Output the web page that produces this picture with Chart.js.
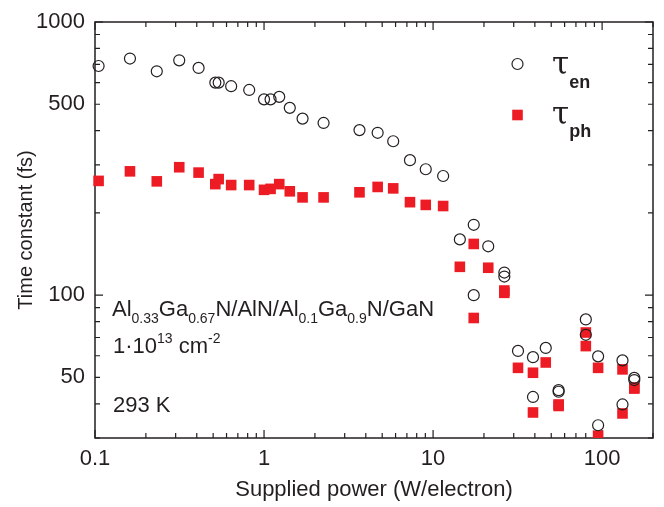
<!DOCTYPE html>
<html>
<head>
<meta charset="utf-8">
<script src="https://cdn.jsdelivr.net/npm/chart.js@4.4.0/dist/chart.umd.js"></script>
<style>
    html, body { margin: 0; padding: 0; background: #fff; }
    #wrap { width: 664px; height: 507px; }
</style>
</head>
<body>
<div id="wrap"><canvas id="chart"></canvas></div>
<script>
// Supplied power (W/electron) for each measurement
const power = [0.105, 0.161, 0.232, 0.315, 0.41, 0.515, 0.539, 0.639, 0.817, 1.0,
    1.093, 1.23, 1.42, 1.69, 2.25, 3.67, 4.70, 5.81, 7.30, 9.05,
    11.47, 14.4, 17.4, 17.4, 21.2, 26.4, 26.4, 31.8, 39.0, 39.0,
    46.4, 55.3, 55.3, 80.1, 80.1, 94.7, 94.7, 132, 132, 155, 155];

// tau_en (fs), open circles
const tauEn = [690, 735, 660, 724, 679, 600, 600, 582, 564, 521,
    521, 532, 485, 443, 427, 402, 393, 366, 312, 289,
    273, 160, 181, 100, 151, 121, 117, 62.5, 59.3, 42.4,
    64.1, 44.9, 44.3, 81.5, 71.6, 59.7, 33.4, 57.7, 39.8, 49.8, 48.9];

// tau_ph (fs), red squares
const tauPh = [262, 284, 261, 294, 281, 255, 266, 253, 253, 243,
    245, 255, 240, 228, 228, 238, 249, 246, 219, 214,
    212, 127, 154, 82.5, 126, 104, 102, 54.2, 52, 37.2,
    56.7, 39.8, 39.3, 73, 65.1, 54.2, 30.6, 53.5, 36.9, 45.9, 45.5];

const xTicks = [0.1, 1, 10, 100];
const yTicks = [50, 100, 500, 1000];

const ink = '#231f20';
const red = '#ed1c24';
const sans = '"Liberation Sans", Arial, sans-serif';

// Frame with inward ticks on all four sides
const framePlugin = {
    id: 'frame',
    beforeDatasetsDraw(chart) {
        const { ctx, chartArea: a, scales } = chart;
        ctx.save();
        ctx.strokeStyle = ink;
        ctx.lineWidth = 1.5;
        ctx.strokeRect(a.left, a.top, a.right - a.left, a.bottom - a.top);
        ctx.lineWidth = 1.2;
        ctx.beginPath();
        // x ticks
        for (let d = 0.1; d <= 100; d *= 10) {
            for (let m = 1; m <= 9; m++) {
                const v = d * m;
                if (v > scales.x.max) break;
                const px = scales.x.getPixelForValue(v);
                const len = m === 1 ? 8 : 5;
                ctx.moveTo(px, a.bottom); ctx.lineTo(px, a.bottom - len);
                ctx.moveTo(px, a.top); ctx.lineTo(px, a.top + len);
            }
        }
        // y ticks
        for (let d = 10; d <= 1000; d *= 10) {
            for (let m = 1; m <= 9; m++) {
                const v = d * m;
                if (v < scales.y.min || v > scales.y.max) continue;
                const py = scales.y.getPixelForValue(v);
                const len = m === 1 ? 8 : 5;
                ctx.moveTo(a.left, py); ctx.lineTo(a.left + len, py);
                ctx.moveTo(a.right, py); ctx.lineTo(a.right - len, py);
            }
        }
        ctx.stroke();
        ctx.restore();
    }
};

function drawRich(ctx, x, y, parts) {
    let cx = x;
    parts.forEach(p => {
        ctx.font = (p.bold ? 'bold ' : '') + p.size + 'px ' + (p.family || sans);
        ctx.fillText(p.t, cx, y + (p.dy || 0));
        cx += ctx.measureText(p.t).width;
    });
}

// Sample description and legend
const notesPlugin = {
    id: 'notes',
    afterDraw(chart) {
        const ctx = chart.ctx;
        ctx.save();
        ctx.fillStyle = ink;
        ctx.textBaseline = 'alphabetic';
        ctx.textAlign = 'left';
        const sub = t => ({ t: t, size: 14, dy: 7 });
        const sup = t => ({ t: t, size: 14, dy: -10 });
        const txt = t => ({ t: t, size: 22 });
        drawRich(ctx, 112, 316, [txt('Al'), sub('0.33'), txt('Ga'), sub('0.67'),
            txt('N/AlN/Al'), sub('0.1'), txt('Ga'), sub('0.9'), txt('N/GaN')]);
        drawRich(ctx, 113, 353, [txt('1\u00b710'), sup('13'), txt(' cm'), sup('-2')]);
        drawRich(ctx, 113, 412, [txt('293 K')]);

        // legend
        const lx = 517.5;
        ctx.strokeStyle = ink;
        ctx.lineWidth = 1.2;
        ctx.fillStyle = 'rgba(0,0,0,0)';
        Chart.helpers.drawPoint(ctx, { pointStyle: 'circle', radius: 5.5, borderWidth: 1.2, rotation: 0 }, lx, 64);
        ctx.fillStyle = red;
        Chart.helpers.drawPoint(ctx, { pointStyle: 'rect', radius: 7.5, borderWidth: 0, rotation: 0 }, lx, 115);
        ctx.fillStyle = ink;
        const tau = { t: '\u03c4', size: 31, family: '"DejaVu Serif", serif' };
        drawRich(ctx, 552, 74, [tau, { t: 'en', size: 18, bold: true, dy: 14 }]);
        drawRich(ctx, 552, 124, [tau, { t: 'ph', size: 18, bold: true, dy: 13 }]);
        ctx.restore();
    }
};

new Chart(document.getElementById('chart').getContext('2d'), {
    type: 'scatter',
    data: {
        datasets: [
            {
                label: 'tau_en',
                data: power.map((p, i) => ({ x: p, y: tauEn[i] })),
                pointStyle: 'circle',
                pointRadius: 5.5,
                borderWidth: 1.2,
                borderColor: ink,
                backgroundColor: 'rgba(0,0,0,0)',
                clip: { left: 10, top: 10, right: 10, bottom: 0 }
            },
            {
                label: 'tau_ph',
                data: power.map((p, i) => ({ x: p, y: tauPh[i] })),
                pointStyle: 'rect',
                pointRadius: 7.5,
                borderWidth: 0,
                backgroundColor: red,
                borderColor: red,
                clip: { left: 10, top: 10, right: 10, bottom: 0 }
            }
        ]
    },
    options: {
        responsive: true,
        maintainAspectRatio: false,
        animation: false,
        events: [],
        layout: {
            padding: { top: 22, right: 11, left: 0, bottom: 0 }
        },
        plugins: {
            legend: { display: false },
            tooltip: { enabled: false }
        },
        scales: {
            x: {
                type: 'logarithmic',
                min: 0.1,
                max: 200,
                grid: { display: false, drawTicks: false },
                border: { display: false },
                afterBuildTicks: scale => { scale.ticks = xTicks.map(v => ({ value: v })); },
                afterFit: scale => { scale.height = 69; },
                ticks: {
                    color: ink,
                    padding: 10,
                    maxRotation: 0,
                    font: { family: sans, size: 22, lineHeight: 1 },
                    callback: v => String(v)
                },
                title: {
                    display: true,
                    text: 'Supplied power (W/electron)',
                    color: ink,
                    font: { family: sans, size: 22, lineHeight: 1.2 },
                    padding: { top: 0, bottom: 4 }
                }
            },
            y: {
                type: 'logarithmic',
                min: 30,
                max: 1000,
                grid: { display: false, drawTicks: false },
                border: { display: false },
                afterBuildTicks: scale => { scale.ticks = yTicks.map(v => ({ value: v })); },
                afterFit: scale => { scale.width = 95; },
                ticks: {
                    color: ink,
                    padding: 10,
                    font: { family: sans, size: 22, lineHeight: 1 },
                    callback: v => String(v)
                },
                title: {
                    display: true,
                    text: 'Time constant (fs)',
                    color: ink,
                    font: { family: sans, size: 20, lineHeight: 1.2 },
                    padding: { top: 14, bottom: 0 }
                }
            }
        }
    },
    plugins: [framePlugin, notesPlugin]
});
</script>
</body>
</html>
